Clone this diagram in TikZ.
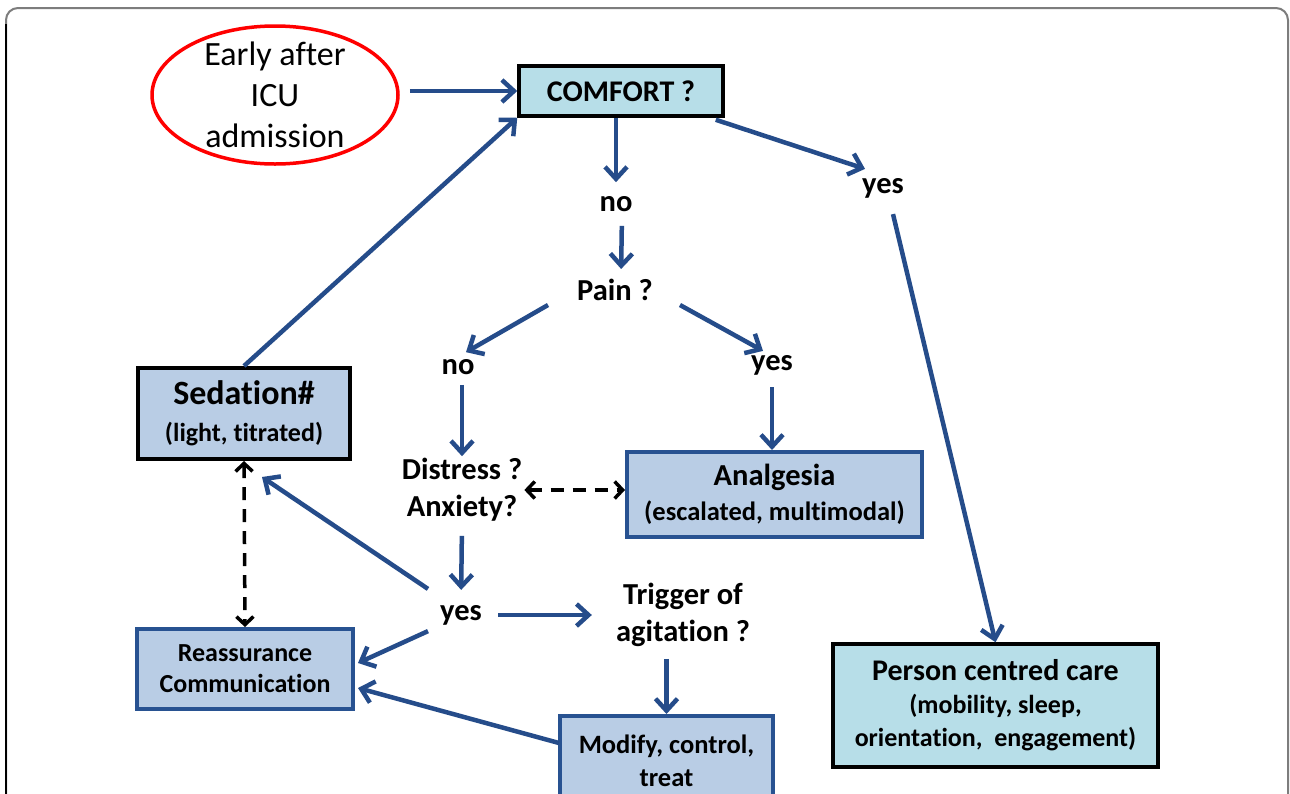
\documentclass[tikz,border=0pt]{standalone}
\usepackage{fontspec}
\setmainfont{Carlito}[Ligatures={NoCommon}]
\usetikzlibrary{arrows.meta,shapes.geometric}
\definecolor{arrblue}{RGB}{37,76,138}
\definecolor{cyanfill}{RGB}{183,222,232}
\definecolor{bluefill}{RGB}{185,205,229}
\definecolor{boxblue}{RGB}{40,82,145}
\definecolor{framegray}{RGB}{125,125,125}
\begin{document}
\begin{tikzpicture}[x=1pt,y=-1pt,
  arr/.style={draw=arrblue, line width=4.5pt, -{Straight Barb[length=12pt,width=22pt]}},
  darr/.style={draw=black, line width=3.5pt, dash pattern=on 13pt off 9pt,
    {Straight Barb[length=8pt,width=17pt]}-{Straight Barb[length=8pt,width=17pt]}},
  lbl/.style={font=\bfseries\fontsize{30.5}{37}\selectfont, inner sep=2pt, align=center},
  cbox/.style={draw=black, line width=3.5pt, fill=cyanfill, align=center, inner sep=0pt},
  bbox/.style={draw=boxblue, line width=4pt, fill=bluefill, align=center, inner sep=0pt},
  sbox/.style={draw=black, line width=4pt, fill=bluefill, align=center, inner sep=0pt}
]
\useasboundingbox (0,0) rectangle (1290,793);
\clip (0,0) rectangle (1290,793);
\fill[white] (0,0) rectangle (1290,793);
% frame
\draw[framegray, line width=2pt, rounded corners=12pt] (6,800) -- (6,8) -- (1288,8) -- (1288,800);
\draw[black, line width=2pt] (6,800) -- (6,24);

% nodes
\node[ellipse, draw=red, line width=3.5pt, minimum width=246pt, minimum height=138pt, inner sep=0pt] (ell) at (275,95) {};
\node[font=\fontsize{34}{41}\selectfont, align=center, inner sep=0pt] (elltext) at (ell.center) {Early after\\ICU\\admission};

\node[cbox, minimum width=204pt, minimum height=50pt, font=\bfseries\fontsize{30}{34}\selectfont] (comfort) at (621,91) {COMFORT ?};

\node[lbl] (no1) at (616,204) {no};
\node[lbl] (pain) at (615,290) {Pain ?};
\node[lbl] (no2) at (458,367) {no};
\node[lbl] (yes1) at (772,365) {yes};
\node[lbl] (yes2) at (883,188) {yes};
\node[lbl] (distress) at (462,490) {Distress ?\\Anxiety?};
\node[lbl] (yes3) at (461,615) {yes};
\node[lbl] (trigger) at (683,615) {Trigger of\\agitation ?};

\node[sbox, minimum width=212pt, minimum height=91pt, font=\bfseries\fontsize{26}{37}\selectfont] (sedation) at (244,413.5)
  {{\fontsize{34}{37}\selectfont Sedation\#}\\(light, titrated)};
\node[bbox, minimum width=295pt, minimum height=85pt, font=\bfseries\fontsize{26.5}{35}\selectfont] (analgesia) at (774.5,494.5)
  {{\fontsize{30.5}{35}\selectfont Analgesia}\\(escalated, multimodal)};
\node[bbox, minimum width=216pt, minimum height=80pt, font=\bfseries\fontsize{26}{31}\selectfont] (reass) at (245,669)
  {Reassurance\\Communication};
\node[bbox, minimum width=213pt, minimum height=90pt, font=\bfseries\fontsize{26.5}{33}\selectfont] (modify) at (666.5,761)
  {Modify, control,\\treat};
\node[cbox, minimum width=325pt, minimum height=123pt, font=\bfseries\fontsize{26}{33}\selectfont] (person) at (995.5,705.5)
  {{\fontsize{30}{35}\selectfont Person centred care}\\(mobility, sleep,\\orientation,\ \ engagement)};

% connectors
\draw[arr, shorten <=10pt] (ell.east |- comfort.west) -- (comfort.west);
\draw[arr, shorten >=12pt] (comfort.south -| no1) -- (no1.north);
\draw[arr, shorten <=12pt, shorten >=8pt] ([shift={(6,0)}]no1.south) -- ([shift={(6,0)}]pain.north);
\draw[arr] ([shift={(-27,15)}]pain.west) -- ([shift={(8,-5)}]no2.north);
\draw[arr] ([shift={(25,15)}]pain.east) -- ([shift={(-9,-2)}]yes1.north);
\draw[arr, shorten <=10pt] (yes1.south) -- (yes1.south |- analgesia.north);
\draw[arr] ([shift={(-9,2)}]comfort.south east) -- ([shift={(-18,-7)}]yes2.north);
\draw[arr] ([shift={(10,14)}]yes2.south) -- (person.north);
\draw[arr, shorten <=8pt] (no2.south -| distress.north) -- (distress.north);
\draw[darr] (distress.east) -- (distress.east -| analgesia.west);
\draw[arr, shorten <=12pt, shorten >=13pt] (distress.south) -- (yes3.north);
\draw[arr] ([shift={(-10,-14)}]yes3.north west) -- ([shift={(18,16)}]sedation.south);
\draw[arr] ([shift={(-10,4)}]yes3.south west) -- ([shift={(3,-6)}]reass.east);
\draw[arr, shorten <=14pt, shorten >=22pt] (yes3.east) -- (trigger.west |- yes3.east);
\draw[arr, shorten <=10pt] (modify.north |- trigger.south) -- (modify.north);
\draw[arr] ([shift={(1,29)}]modify.north west) -- ([shift={(3,19)}]reass.east);
\draw[arr] (sedation.north) -- (comfort.south west);
\draw[darr] (sedation.south) -- (reass.north);
\end{tikzpicture}
\end{document}
